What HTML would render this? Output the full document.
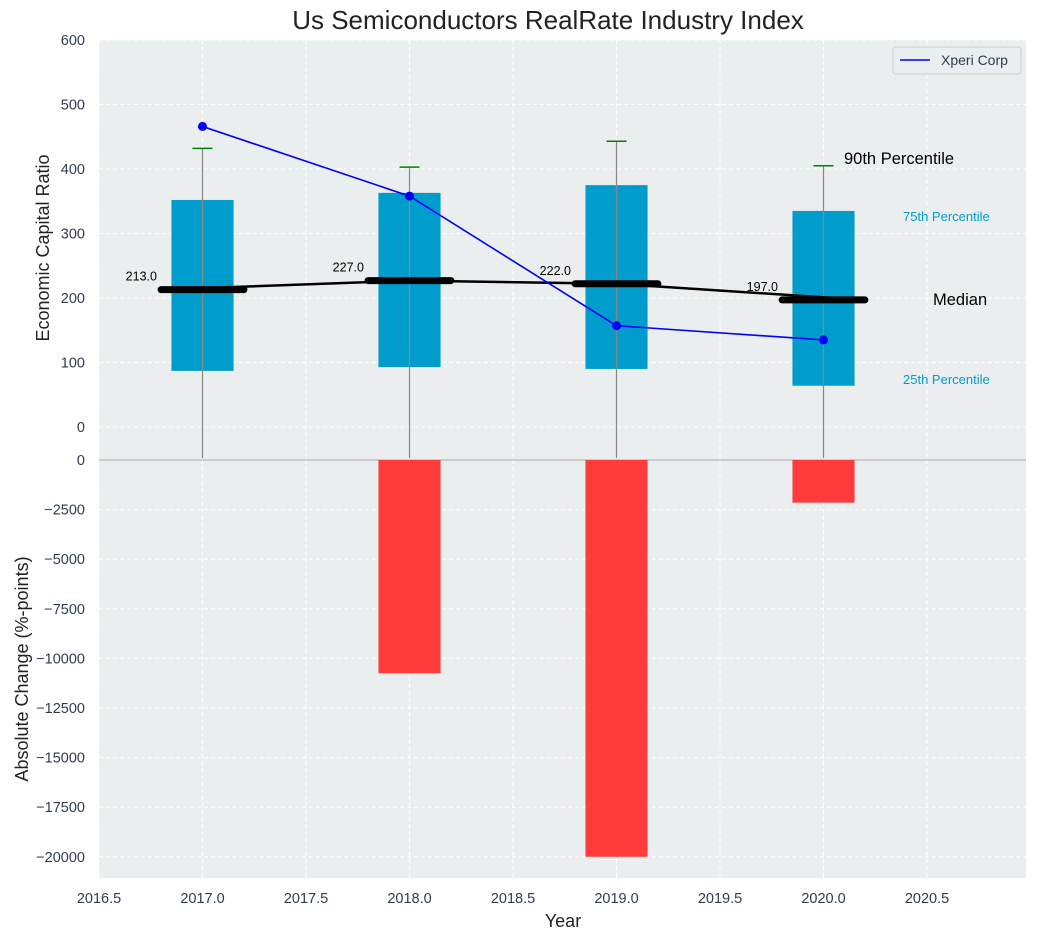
<!DOCTYPE html>
<html><head><meta charset="utf-8">
<style>
body{margin:0;background:#fff;}
svg{font-family:"Liberation Sans",sans-serif;display:block;}
</style></head>
<body>
<svg id="chart" width="1038" height="940" xmlns="http://www.w3.org/2000/svg"></svg>
<script>
const years = [2017, 2018, 2019, 2020];
const p25 = [87, 93, 90, 64];
const p75 = [352, 363, 375, 335];
const p90 = [432, 403, 443, 405];
const medians = [213, 227, 222, 197];
const xperi = [466, 358, 157, 135];
const changes = [0, -10750, -20000, -2150];
const topTicks = [0, 100, 200, 300, 400, 500, 600];
const botTicks = [0, -2500, -5000, -7500, -10000, -12500, -15000, -17500, -20000];
const xTicks = [2016.5, 2017.0, 2017.5, 2018.0, 2018.5, 2019.0, 2019.5, 2020.0, 2020.5];

const svg = document.getElementById('chart');
const NS = 'http://www.w3.org/2000/svg';
function el(tag, attrs, parent){const e=document.createElementNS(NS,tag);for(const k in attrs)e.setAttribute(k,attrs[k]);(parent||svg).appendChild(e);return e;}
const L=99,R=1026,T1=40,B1=460,B2=878;
const TC='#2e3b52';
const FS=14.5;
const xs = v => L + (v-2016.5)*207;
const yTop = v => 427 - v*0.645;
const yBot = v => 460 - v*(49.6/2500);

let bg1=el('rect',{x:L,y:T1,width:R-L,height:B1-T1,fill:'#ebeeee'});


let bg2=el('rect',{x:L,y:B1,width:R-L,height:B2-B1,fill:'#ebeeee'});



xTicks.forEach(t=>{
  el('line',{x1:xs(t),x2:xs(t),y1:T1,y2:B2,stroke:'#fff','stroke-dasharray':'4,3','stroke-width':1});
  const tx=el('text',{x:xs(t),y:903,'text-anchor':'middle','font-size':FS,fill:TC});
  tx.textContent=t.toFixed(1);
  
  
});
topTicks.forEach(t=>{
  el('line',{x1:L,x2:R,y1:yTop(t),y2:yTop(t),stroke:'#fff','stroke-dasharray':'4,3'});
  const tx=el('text',{x:85,y:yTop(t)+5,'text-anchor':'end','font-size':FS,fill:TC});
  tx.textContent=t;
  
  
});
botTicks.forEach(t=>{
  el('line',{x1:L,x2:R,y1:yBot(t),y2:yBot(t),stroke:'#fff','stroke-dasharray':'4,3'});
  const tx=el('text',{x:85,y:yBot(t)+5,'text-anchor':'end','font-size':FS,fill:TC});
  tx.textContent=t===0?'0':'\u2212'+Math.abs(t);
  
  
});
el('line',{x1:L,x2:R,y1:B1,y2:B1,stroke:'#aaa','stroke-width':1});

years.forEach((y,i)=>{
  const b=el('rect',{x:xs(y-0.15),y:yTop(p75[i]),width:xs(y+0.15)-xs(y-0.15),height:yTop(p25[i])-yTop(p75[i]),fill:'#009ccc'});
  
  
  const w=el('line',{x1:xs(y),x2:xs(y),y1:yTop(p90[i]),y2:458,stroke:'#888','stroke-width':1.2});
  
  
  const c=el('line',{x1:xs(y)-10,x2:xs(y)+10,y1:yTop(p90[i]),y2:yTop(p90[i]),stroke:'green','stroke-width':1.5});
  
  
  if(changes[i]!==0){
    const r=el('rect',{x:xs(y-0.15),y:yBot(0),width:xs(y+0.15)-xs(y-0.15),height:yBot(changes[i])-yBot(0),fill:'#ff3c3c'});
    
    
  }
});
let pts=years.map((y,i)=>xs(y)+','+yTop(medians[i]));
pts[0]=xs(years[0]-0.2)+','+yTop(medians[0]);
pts[pts.length-1]=xs(years[3]+0.2)+','+yTop(medians[3]);
const ml=el('polyline',{points:pts.join(' '),fill:'none',stroke:'#000','stroke-width':2.5});


years.forEach((y,i)=>{
  const m=el('line',{x1:xs(y-0.2),x2:xs(y+0.2),y1:yTop(medians[i]),y2:yTop(medians[i]),stroke:'#000','stroke-width':7,'stroke-linecap':'round'});
  
  
  const t=el('text',{x:xs(y-0.22),y:yTop(medians[i])-9,'text-anchor':'end','font-size':12.5,fill:'#000'});
  t.textContent=medians[i].toFixed(1);
  
  
});
const xp=el('polyline',{points:years.map((y,i)=>xs(y)+','+yTop(xperi[i])).join(' '),fill:'none',stroke:'#0000ff','stroke-width':1.6});


years.forEach((y,i)=>{
  const c=el('circle',{cx:xs(y),cy:yTop(xperi[i]),r:4.5,fill:'#0000ff'});
  
  
});
function txt(x,y,s,size,fill,name,anchor){const t=el('text',{x:x,y:y,'font-size':size,fill:fill,'text-anchor':anchor||'start'});t.textContent=s;return t;}
txt(844,164,'90th Percentile',16.5,'#000','p90-annotation');
txt(903,221,'75th Percentile',13,'#009ccc','p75-annotation');
txt(933,305,'Median',16.5,'#000','median-annotation');
txt(903,384,'25th Percentile',13,'#009ccc','p25-annotation');
const lg=el('g',{});


el('rect',{x:893,y:47,width:128,height:27,fill:'#ebeeee',stroke:'#ccc',rx:3},lg);
el('line',{x1:900,x2:930,y1:60,y2:60,stroke:'#0000ff','stroke-width':1.6},lg);
const lt=el('text',{x:941,y:65,'font-size':14,fill:TC},lg);lt.textContent='Xperi Corp';
txt(548,29,'Us Semiconductors RealRate Industry Index',26,'#222','chart-title','middle');
txt(563,927,'Year',18,'#222','x-axis-title','middle');
const yt1=txt(0,0,'Economic Capital Ratio',18,'#222','top-y-axis-title','middle');
yt1.setAttribute('transform','translate(49,248) rotate(-90)');
const yt2=txt(0,0,'Absolute Change (%-points)',18,'#222','bottom-y-axis-title','middle');
yt2.setAttribute('transform','translate(28,669) rotate(-90)');
</script>
</body></html>
